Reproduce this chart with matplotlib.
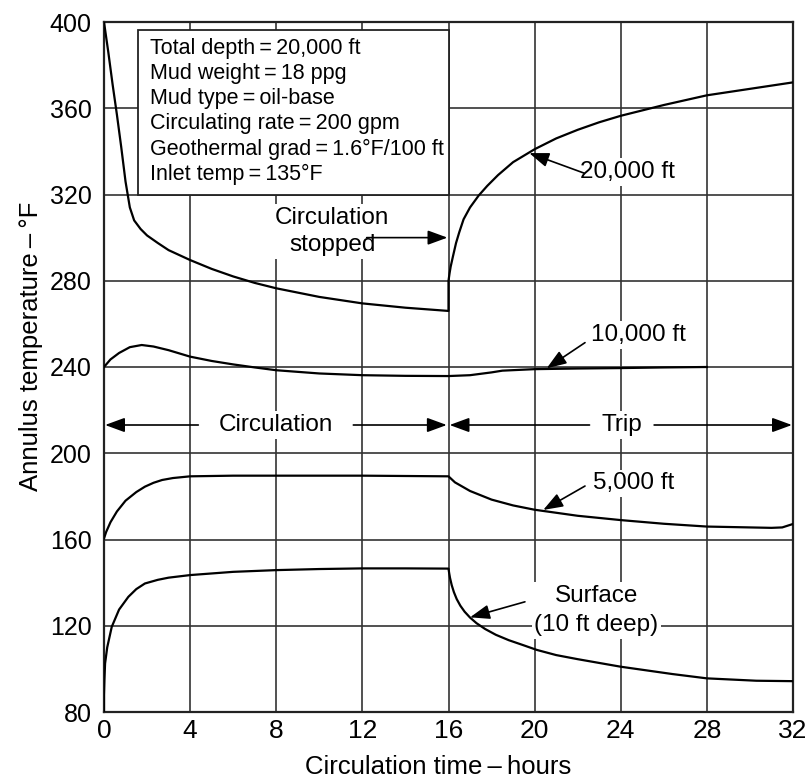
import matplotlib
matplotlib.use("Agg")
import matplotlib.pyplot as plt
from matplotlib.patches import Rectangle

# annulus temperature vs circulation time
# 20,000 ft (total depth)
t_20k = [0, 0.2, 0.4, 0.6, 0.8, 1.0, 1.2, 1.4, 1.7, 2.0, 2.5, 3.0, 4, 5, 6, 7, 8, 10, 12, 14, 16,
         16.0, 16.05, 16.1, 16.2, 16.35, 16.5, 16.7, 17.0, 17.4, 17.8, 18.3, 19.0, 20, 21, 22, 23, 24,
         26, 28, 30, 32]
T_20k = [400, 386, 371, 357, 342, 326, 314, 308, 304, 301, 297.5, 294.2, 289.6, 285.5, 282, 279, 276.5,
         272.5, 269.5, 267.5, 266,
         280, 283.5, 286.5, 291, 297.5, 302.5, 308.5, 314, 319.5, 324, 329, 335, 341, 346, 350, 353.5,
         356.5, 361.5, 366, 369, 372]

# 10,000 ft
t_10k = [0, 0.3, 0.7, 1.2, 1.75, 2.3, 3, 4, 5, 6, 7, 8, 10, 12, 14, 16, 17, 18, 18.5, 20, 22, 24, 26, 28]
T_10k = [240, 243.5, 246.5, 249.2, 250.2, 249.5, 247.8, 244.8, 242.8, 241.2, 239.8, 238.5, 237, 236.2,
         235.9, 235.8, 236.2, 237.5, 238.3, 239, 239.3, 239.5, 239.8, 240]

# 5,000 ft
t_5k = [0, 0.1, 0.3, 0.6, 1.0, 1.5, 1.9, 2.3, 2.7, 3.2, 4, 6, 8, 12, 16,
        16.3, 17, 18, 19, 20, 22, 24, 26, 28, 30, 31, 31.5, 32]
T_5k = [160.5, 163.5, 168, 173, 178, 182, 184.5, 186.3, 187.6, 188.5, 189.3, 189.6, 189.6, 189.6, 189.3,
        186.5, 182.5, 178.5, 175.8, 173.8, 171, 169, 167.3, 166, 165.6, 165.4, 165.6, 167.2]

# surface (10 ft deep)
t_surf = [0, 0.0, 0.02, 0.05, 0.15, 0.36, 0.7, 1.13, 1.5, 1.9, 2.5, 3, 4, 6, 8, 10, 12, 14, 16,
          16.03, 16.07, 16.15, 16.25, 16.38, 16.55, 16.75, 17, 17.3, 17.7, 18.2, 18.8, 19.5, 20.1,
          21, 22, 24, 26.4, 28, 30.3, 32]
T_surf = [80, 88, 95, 102.5, 110, 119.5, 127.5, 133.4, 137, 139.6, 141.3, 142.3, 143.5, 145, 145.8,
          146.3, 146.6, 146.6, 146.5,
          144.5, 142.2, 138.8, 135.6, 132.4, 129.3, 126.5, 123.8, 121.2, 118.5, 115.8, 113.3, 110.9, 108.8,
          106.4, 104.5, 101, 97.6, 95.6, 94.5, 94.3]

x_ticks = [0, 4, 8, 12, 16, 20, 24, 28, 32]
y_ticks = [80, 120, 160, 200, 240, 280, 320, 360, 400]

info_lines = [
    "Total depth\u2009=\u200920,000 ft",
    "Mud weight\u2009=\u200918 ppg",
    "Mud type\u2009=\u2009oil-base",
    "Circulating rate\u2009=\u2009200 gpm",
    "Geothermal grad\u2009=\u20091.6\u00b0F/100 ft",
    "Inlet temp\u2009=\u2009135\u00b0F",
]

plt.rcParams['font.family'] = ['Liberation Sans', 'DejaVu Sans']

fig = plt.figure(figsize=(8.1, 7.78), dpi=100)
ax = fig.add_axes([104 / 810, 66 / 778, 689 / 810, 690 / 778])

for t, T in [(t_20k, T_20k), (t_10k, T_10k), (t_5k, T_5k), (t_surf, T_surf)]:
    ax.plot(t, T, color='k', lw=1.6, solid_joinstyle='round', zorder=3)

ax.set_xlim(0, 32)
ax.set_ylim(80, 400)
ax.set_xticks(x_ticks)
ax.set_yticks(y_ticks)
ax.grid(True, color='#333333', lw=1.2)
ax.set_axisbelow(True)
for s in ax.spines.values():
    s.set_linewidth(1.6)
    s.set_color('#222222')
ax.tick_params(length=0)
ax.tick_params(axis='y', labelsize=18, pad=9)
ax.tick_params(axis='x', labelsize=19, pad=5)

ax.set_xlabel("Circulation time\u2009\u2013\u2009hours", fontsize=18.5)
ax.xaxis.set_label_coords(0.485, -0.062)
ax.set_ylabel("Annulus temperature\u2009\u2013\u2009\u00b0F", fontsize=18.5)
ax.yaxis.set_label_coords(-0.088, 0.53)

# input data box
ax.add_patch(Rectangle((1.6, 320), 16 - 1.6, 76.3, facecolor='white', edgecolor='#222222',
                       lw=1.3, zorder=4))
for i, line in enumerate(info_lines):
    ax.text(2.14, 387.8 - i * 11.7, line, fontsize=15.5, va='center', ha='left', zorder=5)

wbox = dict(facecolor='white', edgecolor='none', pad=2)
arrow = dict(arrowstyle='-|>,head_length=0.6,head_width=0.22', color='k', lw=1.2,
             mutation_scale=20, shrinkA=0, shrinkB=0)
fs = 17.5


def note(txt, x, y, ha='center', ls=1.15):
    ax.text(x, y, txt, fontsize=fs, ha=ha, va='center', bbox=wbox, zorder=6, linespacing=ls)


def arr(tail, tip):
    ax.annotate('', xy=tip, xytext=tail, arrowprops=arrow, zorder=6)


note("Circulation\nstopped", 10.6, 302.8, ls=1.3)
arr((12.2, 300), (15.95, 300))

note("20,000 ft", 22.1, 330.4, ha='left')
arr((22.3, 329.9), (19.75, 339.2))

note("10,000 ft", 22.6, 254.8, ha='left')
arr((22.34, 251.3), (20.56, 239.4))

note("5,000 ft", 22.7, 186, ha='left')
arr((22.34, 184.8), (20.4, 173.7))

note("Surface\n(10 ft deep)", 22.87, 127, ls=1.45)
arr((19.55, 131.1), (17.0, 123.9))

note("Circulation", 7.97, 213.1)
arr((4.38, 213.1), (0.05, 213.1))
arr((11.58, 213.1), (15.92, 213.1))

note("Trip", 24.06, 213.1)
arr((22.55, 213.1), (16.05, 213.1))
arr((25.55, 213.1), (31.95, 213.1))

fig.savefig("out.png", dpi=100)
